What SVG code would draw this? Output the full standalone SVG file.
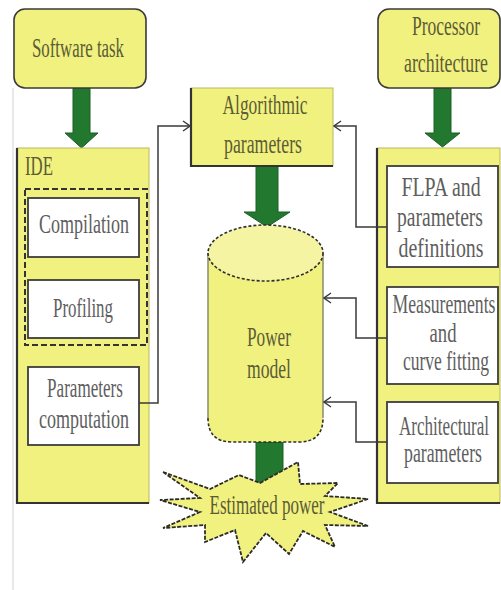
<svg xmlns="http://www.w3.org/2000/svg" width="501" height="590" viewBox="0 0 501 590">
  <defs>
    <style>
      .yel { fill: #f1f17f; stroke: #b9b95e; stroke-width: 1; }
      .round { fill: #f1f17f; stroke: #3a3a3a; stroke-width: 1.6; }
      .shade { fill: none; stroke: #333; stroke-width: 2.2; }
      .white { fill: #ffffff; stroke: #3c3c3c; stroke-width: 1.8; }
      .big { fill: #23782f; stroke: #1b5e25; stroke-width: 1; }
      .link { fill: none; stroke: #3a3a3a; stroke-width: 1.5; marker-end: url(#chev); }
      .t { font-family: "Liberation Serif", "DejaVu Serif", serif; font-size: 27px; text-anchor: middle; }
      .ty { fill: #5c5c36; }
      .tw { fill: #5e5e5e; }
      .dash { fill: none; stroke: #2e2e2e; stroke-width: 1.6; stroke-dasharray: 3 2; }
    </style>
    <marker id="chev" viewBox="0 0 10 12" refX="9" refY="6" markerWidth="10" markerHeight="12" markerUnits="userSpaceOnUse" orient="auto">
      <path d="M2,1 L9,6 L2,11" fill="none" stroke="#3a3a3a" stroke-width="1.4"/>
    </marker>
  </defs>

  <rect width="501" height="590" fill="#ffffff"/>
  <!-- faint page rule on the left -->
  <line x1="13" y1="88" x2="13" y2="590" stroke="#e2e2e2" stroke-width="1.5"/>

  <!-- block arrows -->
  <g id="flow-arrows">
    <path class="big" d="M73,88 H90 V133 H98 L81.5,148 L65,133 H73 Z"/>
    <path class="big" d="M434,88 H451 V133 H460 L442.5,147 L425,133 H434 Z"/>
    <path class="big" d="M256,166 H278 V212 H290 L267,227 L244,212 H256 Z"/>
    <path class="big" d="M256,442 H283 V488 H256 Z"/>
  </g>

  <g id="software-task">
    <rect class="round" x="14" y="9" width="132" height="79" rx="11"/>
    <text class="t ty" transform="translate(78,57) scale(0.623,1)">Software task</text>
  </g>

  <g id="processor-architecture">
    <rect class="round" x="378" y="9" width="122" height="79" rx="11"/>
    <text class="t ty" transform="translate(446,35) scale(0.648,1)">Processor</text>
    <text class="t ty" transform="translate(446,72) scale(0.659,1)">architecture</text>
  </g>

  <g id="ide">
    <rect class="yel" x="17" y="148" width="132" height="355"/>
    <path class="shade" d="M17,148 V503 H149"/>
    <text class="t ty" style="text-anchor:start" transform="translate(25,175) scale(0.622,1)">IDE</text>
    <rect x="25" y="189" width="122" height="156" fill="none" stroke="#333" stroke-width="2" stroke-dasharray="6 3"/>
  </g>

  <g id="compilation">
    <rect class="white" x="28" y="198" width="111" height="59"/>
    <text class="t tw" transform="translate(84,233) scale(0.667,1)">Compilation</text>
  </g>

  <g id="profiling">
    <rect class="white" x="28" y="280" width="111" height="58"/>
    <text class="t tw" transform="translate(83,317) scale(0.625,1)">Profiling</text>
  </g>

  <g id="parameters-computation">
    <rect class="white" x="28" y="367" width="111" height="78"/>
    <text class="t tw" transform="translate(85,397) scale(0.633,1)">Parameters</text>
    <text class="t tw" transform="translate(84,428) scale(0.667,1)">computation</text>
  </g>

  <g id="algorithmic-parameters">
    <rect class="yel" x="191" y="88" width="142" height="78"/>
    <path class="shade" d="M191,88 V166 H333"/>
    <text class="t ty" transform="translate(265,114) scale(0.644,1)">Algorithmic</text>
    <text class="t ty" transform="translate(263,153) scale(0.659,1)">parameters</text>
  </g>

  <g id="power-model">
    <path d="M208,253 V418 Q208,442 232,442 H299 Q323,442 323,418 V253 Z" fill="#f1f17f"/>
    <path d="M208,253 V418 M323,253 V418" fill="none" stroke="#8a8a6a" stroke-width="1.5"/>
    <path class="dash" d="M208,418 Q208,442 232,442 H299 Q323,442 323,418"/>
    <ellipse cx="265.5" cy="253" rx="57.5" ry="28" fill="#f4f4a2" stroke="#2e2e2e" stroke-width="1.6" stroke-dasharray="3 2"/>
    <text class="t ty" transform="translate(269,346) scale(0.638,1)">Power</text>
    <text class="t ty" transform="translate(269,378) scale(0.652,1)">model</text>
  </g>

  <g id="processor-side">
    <rect class="yel" x="377" y="148" width="123" height="355"/>
    <path class="shade" d="M377,148 V503 H500"/>
  </g>

  <g id="flpa-definitions">
    <rect class="white" x="387" y="166" width="111" height="101"/>
    <text class="t tw" transform="translate(441,196) scale(0.734,1)">FLPA and</text>
    <text class="t tw" transform="translate(440,226) scale(0.726,1)">parameters</text>
    <text class="t tw" transform="translate(441,257) scale(0.736,1)">definitions</text>
  </g>

  <g id="measurements">
    <rect class="white" x="387" y="287" width="111" height="97"/>
    <text class="t tw" transform="translate(444,313) scale(0.654,1)">Measurements</text>
    <text class="t tw" transform="translate(443,342) scale(0.692,1)">and</text>
    <text class="t tw" transform="translate(446,370) scale(0.65,1)">curve fitting</text>
  </g>

  <g id="architectural-parameters">
    <rect class="white" x="387" y="402" width="111" height="81"/>
    <text class="t tw" transform="translate(444,435) scale(0.632,1)">Architectural</text>
    <text class="t tw" transform="translate(443,462) scale(0.659,1)">parameters</text>
  </g>

  <g id="estimated-power">
    <polygon points="163,472 210,489 239,475 260,483 298,462 300,484 338,483 325,496 368,499 330,512 368,526 325,525 335,547 303,531 289,554 266,533 243,562 235,530 205,542 205,525 163,528 200,512 160,500 200,498" fill="#f1f17f" stroke="#2b2b2b" stroke-width="1.8" stroke-dasharray="4 1.5" stroke-linejoin="miter"/>
    <text class="t ty" transform="translate(267,514) scale(0.631,1)">Estimated power</text>
  </g>

  <!-- thin connectors -->
  <g id="connectors">
    <path class="link" d="M139,403 H158 V126 H190"/>
    <path class="link" d="M387,227 H356 V126 H334"/>
    <path class="link" d="M387,338 H356 V298 H324"/>
    <path class="link" d="M387,442 H356 V402 H324"/>
  </g>
</svg>
